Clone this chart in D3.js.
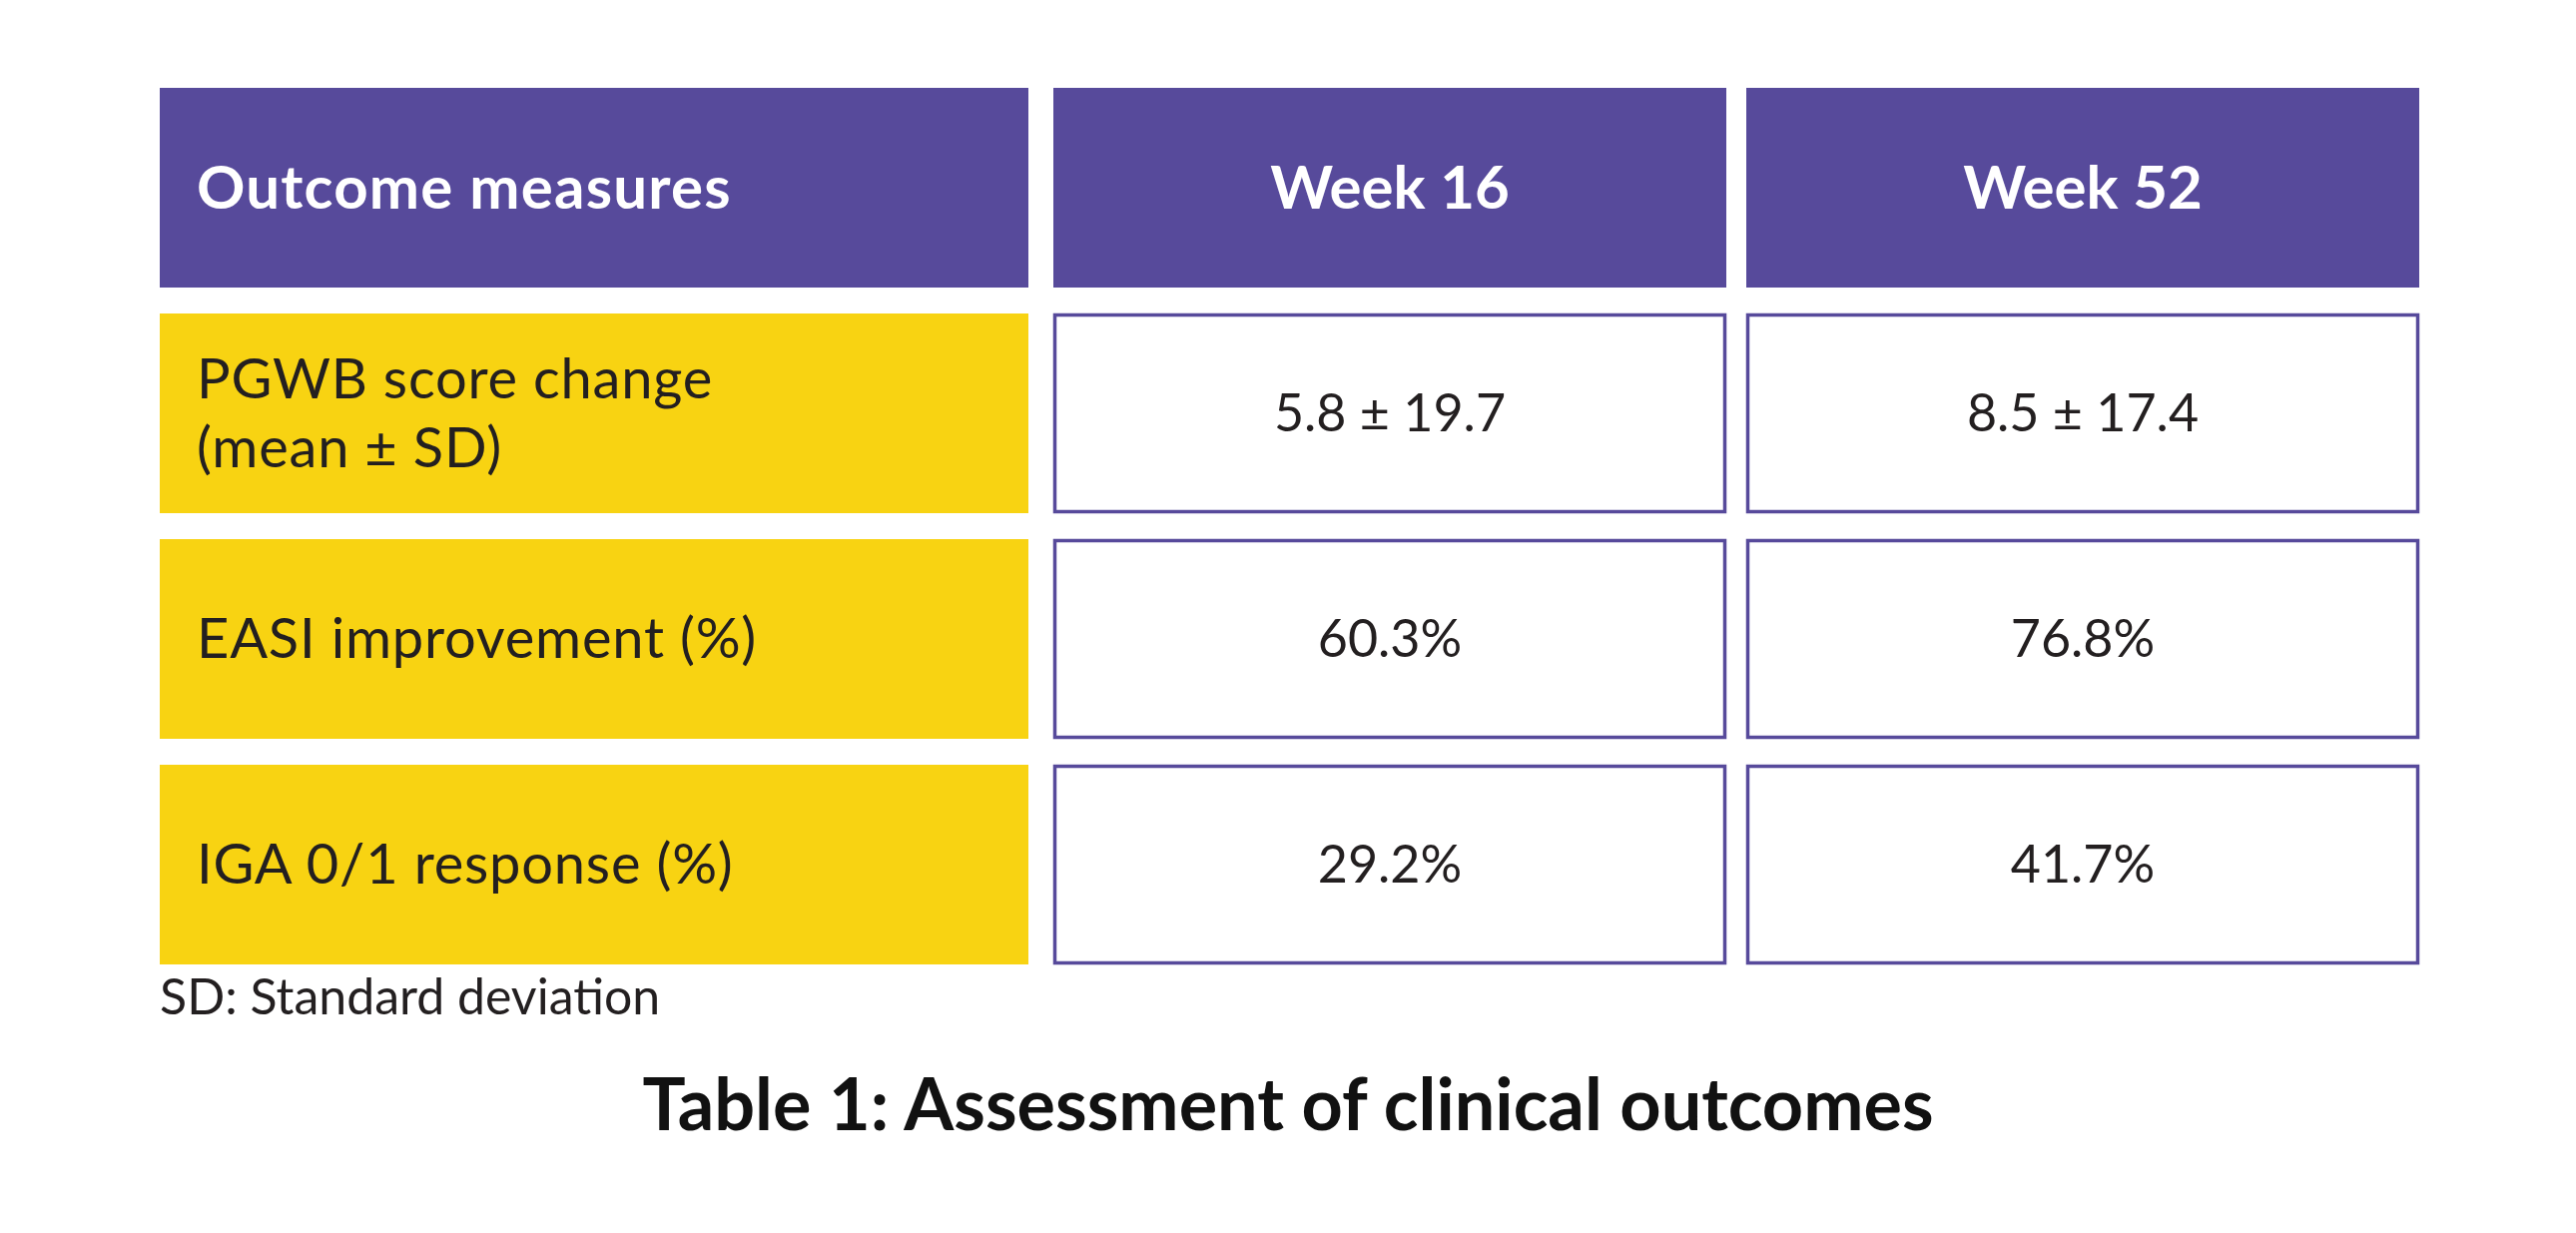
<!DOCTYPE html>
<html>
<head>
<meta charset="utf-8">
<script src="https://cdn.jsdelivr.net/npm/d3@7"></script>
<style>
  html, body { margin: 0; padding: 0; background: #fff; }
  svg { display: block; }
</style>
</head>
<body>
<svg></svg>
<script>
// table content
var headers = ["Outcome measures", "Week 16", "Week 52"];
var measures = [["PGWB score change", "(mean ± SD)"], ["EASI improvement (%)"], ["IGA 0/1 response (%)"]];
var week16 = ["5.8 ± 19.7", "60.3%", "29.2%"];
var week52 = ["8.5 ± 17.4", "76.8%", "41.7%"];
var footnote = "SD: Standard deviation";
var title = "Table 1: Assessment of clinical outcomes";

var w = 2580, h = 1235;
var purple = "#574a9b";
var yellow = "#f8d312";
var ink = "#231f20";
var font = "Lato, 'Open Sans', sans-serif";

var svg = d3.select('svg').attr('width', w).attr('height', h);
svg.append('rect').attr('width', w).attr('height', h).attr('fill', '#fff');

// rows: header + one per measure
var rowKeys = ["head"].concat(measures.map((d, i) => "r" + i));
var y = d3.scaleBand()
  .domain(rowKeys)
  .range([88, 966])
  .paddingInner(26 / 226);

// columns have different widths, so keep their edges
var colEdges = [[160, 1030], [1055, 1729], [1749, 2423]];
var x0 = c => colEdges[c][0];
var cw = c => colEdges[c][1] - colEdges[c][0];

var g = svg.append('g');

// header row
var head = g.selectAll('g.head')
  .data(headers)
  .enter().append('g')
  .attr('class', 'head');

head.append('rect')
  .attr('x', (d, i) => x0(i))
  .attr('y', y('head'))
  .attr('width', (d, i) => cw(i))
  .attr('height', y.bandwidth())
  .attr('fill', purple);

head.append('text')
  .attr('x', (d, i) => i == 0 ? x0(i) + 37 : x0(i) + cw(i) / 2)
  .attr('y', y('head') + y.bandwidth() / 2 + 21)
  .attr('text-anchor', (d, i) => i == 0 ? 'start' : 'middle')
  .attr('fill', '#fff')
  .attr('font-family', font)
  .attr('font-weight', 700)
  .attr('font-size', 60)
  .attr('letter-spacing', (d, i) => i == 0 ? 1.2 : 0)
  .text(d => d);

// label cells
var rows = measures.map((m, i) => ({ key: "r" + i, label: m, v16: week16[i], v52: week52[i] }));

var lab = g.selectAll('g.lab')
  .data(rows)
  .enter().append('g')
  .attr('class', 'lab');

lab.append('rect')
  .attr('x', x0(0))
  .attr('y', d => y(d.key))
  .attr('width', cw(0))
  .attr('height', y.bandwidth())
  .attr('fill', yellow);

lab.append('text')
  .attr('x', x0(0) + 37)
  .attr('y', d => y(d.key) + y.bandwidth() / 2 + 19 - (d.label.length - 1) * 34)
  .attr('fill', ink)
  .attr('font-family', font)
  .attr('font-size', 56)
  .attr('letter-spacing', 0.8)
  .selectAll('tspan')
  .data(d => d.label)
  .enter().append('tspan')
  .attr('x', x0(0) + 37)
  .attr('dy', (d, i) => i == 0 ? 0 : 69)
  .text(d => d);

// value cells
var cells = [];
rows.forEach(r => {
  cells.push({ key: r.key, col: 1, text: r.v16 });
  cells.push({ key: r.key, col: 2, text: r.v52 });
});

var val = g.selectAll('g.val')
  .data(cells)
  .enter().append('g')
  .attr('class', 'val');

val.append('rect')
  .attr('x', d => x0(d.col) + 1.5)
  .attr('y', d => y(d.key) + 1.5)
  .attr('width', d => cw(d.col) - 3)
  .attr('height', y.bandwidth() - 3)
  .attr('fill', '#fff')
  .attr('stroke', purple)
  .attr('stroke-width', 3.5);

val.append('text')
  .attr('x', d => x0(d.col) + cw(d.col) / 2)
  .attr('y', d => y(d.key) + y.bandwidth() / 2 + 18)
  .attr('text-anchor', 'middle')
  .attr('fill', ink)
  .attr('font-family', font)
  .attr('font-size', 52)
  .text(d => d.text);

// footnote and caption
svg.append('text')
  .attr('x', 160)
  .attr('y', 1016)
  .attr('fill', ink)
  .attr('font-family', font)
  .attr('font-size', 50)
  .text(footnote);

svg.append('text')
  .attr('x', w / 2)
  .attr('y', 1132)
  .attr('text-anchor', 'middle')
  .attr('fill', '#111')
  .attr('font-family', font)
  .attr('font-weight', 700)
  .attr('font-size', 72)
  .text(title);
</script>
</body>
</html>
